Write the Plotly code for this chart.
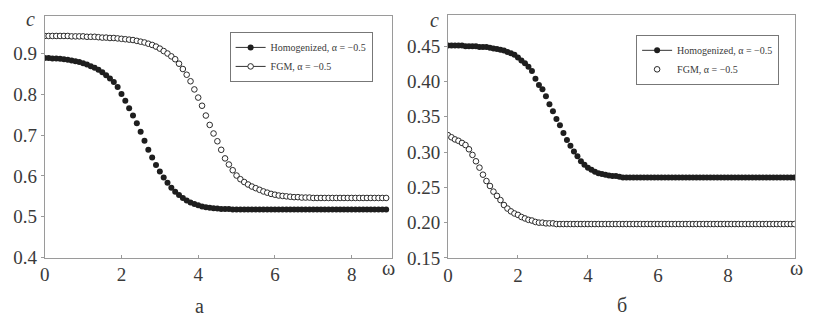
import plotly.graph_objects as go

# ---------------- data ----------------
x_a = [round(0.1 * i, 1) for i in range(90)]      # 0 .. 8.9
x_b = [round(0.1 * i, 1) for i in range(100)]     # 0 .. 9.9

hom_a = [0.889, 0.889, 0.888, 0.888, 0.887, 0.886, 0.885, 0.883, 0.881, 0.879,
         0.876, 0.873, 0.869, 0.865, 0.860, 0.854, 0.847, 0.839, 0.830, 0.818,
         0.801, 0.784, 0.766, 0.748, 0.729, 0.708, 0.686, 0.664, 0.645, 0.627,
         0.611, 0.596, 0.583, 0.571, 0.561, 0.553, 0.546, 0.540, 0.535, 0.531,
         0.528, 0.525, 0.523, 0.522, 0.521, 0.520, 0.519, 0.519, 0.519, 0.518,
         0.518, 0.518, 0.518, 0.518, 0.518, 0.518, 0.518, 0.518, 0.518, 0.518,
         0.518, 0.518, 0.518, 0.518, 0.518, 0.518, 0.518, 0.518, 0.518, 0.518,
         0.518, 0.518, 0.518, 0.518, 0.518, 0.518, 0.518, 0.518, 0.518, 0.518,
         0.518, 0.518, 0.518, 0.518, 0.518, 0.518, 0.518, 0.518, 0.518, 0.518]

fgm_a = [0.943, 0.943, 0.943, 0.943, 0.943, 0.943, 0.943, 0.942, 0.942, 0.942,
         0.942, 0.941, 0.941, 0.941, 0.940, 0.939, 0.939, 0.938, 0.938, 0.937,
         0.936, 0.935, 0.934, 0.933, 0.931, 0.929, 0.927, 0.924, 0.921, 0.917,
         0.912, 0.906, 0.900, 0.893, 0.886, 0.875, 0.862, 0.848, 0.832, 0.812,
         0.792, 0.772, 0.748, 0.725, 0.704, 0.685, 0.664, 0.643, 0.628, 0.614,
         0.601, 0.592, 0.585, 0.579, 0.574, 0.570, 0.566, 0.562, 0.559, 0.556,
         0.554, 0.552, 0.551, 0.550, 0.549, 0.548, 0.548, 0.547, 0.547, 0.547,
         0.546, 0.546, 0.546, 0.546, 0.546, 0.546, 0.546, 0.546, 0.546, 0.546,
         0.546, 0.546, 0.546, 0.546, 0.546, 0.546, 0.546, 0.546, 0.546, 0.546]

hom_b = [0.451, 0.451, 0.451, 0.451, 0.451, 0.450, 0.450, 0.450, 0.450, 0.449,
         0.449, 0.449, 0.448, 0.447, 0.446, 0.445, 0.444, 0.442, 0.440, 0.438,
         0.434, 0.430, 0.426, 0.421, 0.415, 0.404, 0.395, 0.389, 0.379, 0.368,
         0.358, 0.347, 0.338, 0.327, 0.317, 0.309, 0.301, 0.294, 0.287, 0.282,
         0.278, 0.275, 0.272, 0.270, 0.269, 0.268, 0.267, 0.266, 0.266, 0.265,
         0.264, 0.264, 0.264, 0.264, 0.264, 0.264, 0.264, 0.264, 0.264, 0.264,
         0.264, 0.264, 0.264, 0.264, 0.264, 0.264, 0.264, 0.264, 0.264, 0.264,
         0.264, 0.264, 0.264, 0.264, 0.264, 0.264, 0.264, 0.264, 0.264, 0.264,
         0.264, 0.264, 0.264, 0.264, 0.264, 0.264, 0.264, 0.264, 0.264, 0.264,
         0.264, 0.264, 0.264, 0.264, 0.264, 0.264, 0.264, 0.264, 0.264, 0.264]

fgm_b = [0.324, 0.321, 0.318, 0.316, 0.313, 0.310, 0.304, 0.296, 0.287, 0.278,
         0.268, 0.259, 0.252, 0.244, 0.238, 0.232, 0.225, 0.220, 0.216, 0.213,
         0.211, 0.208, 0.206, 0.204, 0.203, 0.201, 0.200, 0.200, 0.199, 0.199,
         0.199, 0.198, 0.198, 0.198, 0.198, 0.198, 0.198, 0.198, 0.198, 0.198,
         0.198, 0.198, 0.198, 0.198, 0.198, 0.198, 0.198, 0.198, 0.198, 0.198,
         0.198, 0.198, 0.198, 0.198, 0.198, 0.198, 0.198, 0.198, 0.198, 0.198,
         0.198, 0.198, 0.198, 0.198, 0.198, 0.198, 0.198, 0.198, 0.198, 0.198,
         0.198, 0.198, 0.198, 0.198, 0.198, 0.198, 0.198, 0.198, 0.198, 0.198,
         0.198, 0.198, 0.198, 0.198, 0.198, 0.198, 0.198, 0.198, 0.198, 0.198,
         0.198, 0.198, 0.198, 0.198, 0.198, 0.198, 0.198, 0.198, 0.198, 0.198]

label_hom = "Homogenized, α = −0.5"
label_fgm = "FGM, α = −0.5"
x_ticks = [0, 2, 4, 6, 8]
y_ticks_a = [0.4, 0.5, 0.6, 0.7, 0.8, 0.9]
y_ticks_b = [0.15, 0.20, 0.25, 0.30, 0.35, 0.40, 0.45]

# ---------------- styles ----------------
SERIF = "Liberation Serif"
DOT = "#1e1e1e"
AXC = "#9a9a9a"
TXT = "#3a3a3a"

filled = dict(symbol="circle", size=6, color=DOT, line=dict(width=0))
hollow = dict(symbol="circle", size=5.6, color="white", line=dict(width=1, color="#2a2a2a"))

fig = go.Figure()

# panel a
fig.add_trace(go.Scatter(x=x_a, y=fgm_a, mode="markers", marker=hollow,
                         xaxis="x", yaxis="y", showlegend=False))
fig.add_trace(go.Scatter(x=x_a, y=hom_a, mode="markers", marker=filled,
                         xaxis="x", yaxis="y", showlegend=False))
# panel b
fig.add_trace(go.Scatter(x=x_b, y=hom_b, mode="markers", marker=filled,
                         xaxis="x2", yaxis="y2", showlegend=False))
fig.add_trace(go.Scatter(x=x_b, y=fgm_b, mode="markers", marker=hollow,
                         xaxis="x2", yaxis="y2", showlegend=False))

# legend entries
lg_line = dict(color="#333333", width=1)
fig.add_trace(go.Scatter(x=[None], y=[None], mode="lines+markers", name=label_hom,
                         marker=filled, line=lg_line, xaxis="x", yaxis="y", legend="legend"))
fig.add_trace(go.Scatter(x=[None], y=[None], mode="lines+markers", name=label_fgm,
                         marker=hollow, line=lg_line, xaxis="x", yaxis="y", legend="legend"))
fig.add_trace(go.Scatter(x=[None], y=[None], mode="lines+markers", name=label_hom,
                         marker=filled, line=lg_line, xaxis="x2", yaxis="y2", legend="legend2"))
fig.add_trace(go.Scatter(x=[None], y=[None], mode="markers", name=label_fgm,
                         marker=hollow, xaxis="x2", yaxis="y2", legend="legend2"))

axis_common = dict(showline=True, linecolor=AXC, linewidth=1, mirror=True,
                   showgrid=False, zeroline=False, ticklen=3, tickcolor=AXC,
                   tickfont=dict(family=SERIF, size=19, color=TXT))

fig.update_layout(
    width=817, height=335,
    margin=dict(l=0, r=0, t=0, b=0),
    paper_bgcolor="white", plot_bgcolor="white",
    font=dict(family=SERIF),
    xaxis=dict(domain=[40 / 817, 389.3 / 817], range=[0, 9.05], tickvals=x_ticks,
               ticks="inside", anchor="y", **axis_common),
    yaxis=dict(domain=[0.2051, 0.9501], range=[0.4, 0.9915], tickvals=y_ticks_a,
               tickformat=".1f", ticks="outside", anchor="x", **axis_common),
    xaxis2=dict(domain=[445.7 / 817, 795.3 / 817], range=[0, 9.93], tickvals=x_ticks,
                ticks="inside", anchor="y2", **axis_common),
    yaxis2=dict(domain=[0.2039, 0.9552], range=[0.15, 0.495], tickvals=y_ticks_b,
                tickformat=".2f", ticks="outside", anchor="x2", **axis_common),
    legend=dict(x=226 / 817, y=1 - 33 / 335, xanchor="left", yanchor="top",
                bordercolor="#777777", borderwidth=1, bgcolor="white",
                font=dict(family=SERIF, size=10, color=TXT), tracegroupgap=0,
                itemwidth=30),
    legend2=dict(x=635 / 817, y=1 - 36 / 335, xanchor="left", yanchor="top",
                 bordercolor="#777777", borderwidth=1, bgcolor="white",
                 font=dict(family=SERIF, size=10, color=TXT), tracegroupgap=0,
                 itemwidth=30),
)

ann_font = dict(family=SERIF, size=20, color=TXT)
annotations = [
    dict(text="<i>c</i>", x=26, y=20),
    dict(text="<i>c</i>", x=432, y=21),
    dict(text="ω", x=386, y=277),
    dict(text="ω", x=796, y=277),
    dict(text="а", x=196, y=316),
    dict(text="б", x=621, y=315),
]
for a in annotations:
    fig.add_annotation(text=a["text"], x=a["x"] / 817, y=1 - a["y"] / 335,
                       xref="paper", yref="paper", showarrow=False,
                       xanchor="center", yanchor="middle", font=ann_font)

fig.write_html("out.html")
